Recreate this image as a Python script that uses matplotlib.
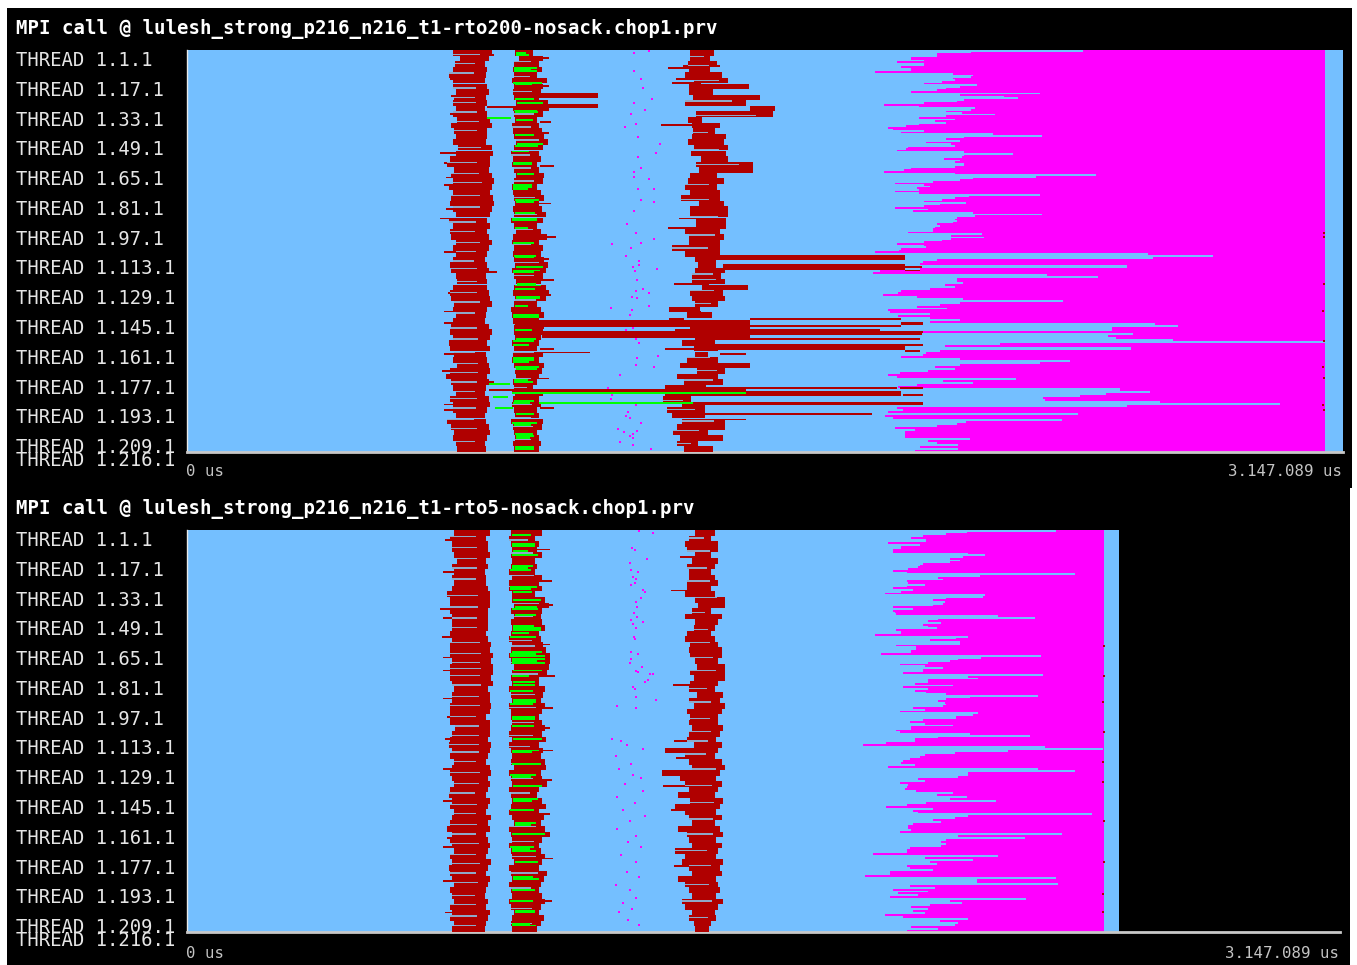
import matplotlib
matplotlib.use('Agg')
import matplotlib.pyplot as plt
from matplotlib.patches import Rectangle

W, H = 1357, 965
BLUE = '#74bfff'
RED = '#b00000'
GREEN = '#00ff00'
PINK = '#ff00ff'

span_ms = 3147.089
threads = [1, 17, 33, 49, 65, 81, 97, 113, 129, 145, 161, 177, 193, 209, 216]
title_top = 'MPI call @ lulesh_strong_p216_n216_t1-rto200-nosack.chop1.prv'
title_bot = 'MPI call @ lulesh_strong_p216_n216_t1-rto5-nosack.chop1.prv'

# values below are start/end times in ms
trace_end_top = 3147
trace_end_bot = 2544
pink_end_top = 3098
pink_end_bot = 2503

# upper half of the threads, then lower half
pink_start_top_a = [2439,2134,2043,2043,1970,1970,2006,1933,2006,2006,1945,1970,1970,1872,2085,2140,2134,2085,2091,2055,
    2006,2152,2104,2067,2043,1970,2323,2104,2225,2262,2116,2097,2006,1897,1994,2146,2134,2067,2110,2201,
    2067,1994,2091,2037,2067,1994,1957,1909,1921,2006,1945,2195,2329,2116,2067,2104,2012,2079,2091,1963,
    1957,1933,2116,2250,2116,2110,2061,2104,2091,2116,2116,2091,1970,1951,1897,2091,2475,2311,2140,2104,
    2030,1927,2006,2024,1988,1994,1927,1994,2323,2128,2091,2055,2006,2122,2049,2006,1927,2018,1976,2140,
    2329,2146,2097,2091,2097,2085,2043,2049,2037,2030,2030,1963,2164,2079,2171,2079,2055,2006,1933,2006,
    2012,1945,1939,1872]
pink_start_top_b = [2617,2793,2630,2041,2004,1995,2558,2558,1995,1886,1868,2340,2480,2095,2095,2113,
    2063,2090,2022,1945,1936,1895,1986,2113,2385,2104,2050,1986,2068,1909,1914,2022,1936,2022,2104,2022,
    2635,2698,2517,2517,1882,2576,2508,2530,2685,3097,2213,2063,2571,2571,2050,2013,2004,1945,2104,2403,
    2322,2104,2036,2090,2018,1941,1909,1932,2258,2059,2140,1986,1936,2539,2539,2621,2503,2431,2331,2335,
    2648,2975,2558,1932,1950,1909,2426,1900,1923,2381,2122,2095,2041,1927,1982,1954,1954,1954,1954,2131,
    2018,2041,2100,1995,2100,1982]

pink_start_bot_a = [2373,2128,2073,2009,1977,2018,2018,1914,2000,1950,1950,1927,1927,2132,2178,2118,2082,2109,2082,2009,
    2000,1996,1968,1927,1964,2423,2164,2050,2064,1964,1968,2014,1964,1927,1982,1950,1905,2178,2173,2073,
    2037,2068,2064,2037,1927,1982,1927,1932,1936,2214,2314,2050,2023,2059,2009,2023,2046,1936,1950,1950,
    1877,2132,2100,2027,2109,2109,1936,1991,1991,1977,1977,1895,2332,2168,2105,2082,2023,1946,2014,2064,
    2009,2009,1955,2337,2132,2159,2023,2023,1986,2091,1955,2023,1986,2018,2073,2323,2137,2073,2050,2068,
    2073,2064,1982,2014,1946,2159,2146,2100,2100,2009,1973,2014,2091,1977,1977,1936,1946,2137,2300,2050]
pink_start_bot_b = [1986,1986,1909,1845,2341,2501,2241,2096,2014,2000,1973,1955,1950,1986,1914,2323,2423,2132,2132,2105,
    1996,2014,1946,1968,1964,1959,1991,2091,2046,2128,2082,2209,2018,1964,1909,2037,1982,1996,2469,2132,
    2096,2037,2059,1982,1968,1968,1977,1946,2387,2105,2287,2073,2059,2073,2059,1973,1964,1964,1873,2214,
    2014,2146,2027,2046,1964,1973,2037,1918,1918,1850,2373,2155,2155,2378,1973,2041,1927,2023,1941,1995,
    1918,2291,2082,2114,2027,1977,2023,1982,2014,1905,1955,2132,2055,2105,2096,1977,2050,1964]

a_left_top = [735,752,740,735,724,733,735,741,738,733,741,735,746,730,738,741,735,749,741,727,719,738,730,733,
    722,733,730,727,735,741,722,733,727,730,741,735,741,733,727,730,741,746,735,727,730,738,733,741,
    735,730,727,735,722,727,738,733,744,727,716,730,735,741,727,735,733,741,719,730,738,735,741,746]
a_right_top = [825,817,806,814,809,806,812,817,809,812,806,814,820,825,814,812,809,825,828,822,820,817,825,833,
    825,820,828,833,825,822,814,820,812,817,825,817,812,806,814,817,809,814,812,817,820,825,814,809,
    806,817,825,820,812,820,809,812,817,822,814,817,809,806,817,822,812,806,809,817,822,812,806,809]
b_left_top = [895,905,893,890,893,887,893,890,893,898,890,893,895,887,890,893,898,893,885,890,887,893,898,893,
    887,890,893,895,890,893,885,893,898,890,887,893,890,893,895,887,893,898,893,890,895,893,885,887,
    890,893,893,895,887,893,890,887,893,895,898,890,893,895,890,887,893,895,885,890,893,895,890,893]
b_right_top = [935,960,950,958,945,972,960,955,950,975,978,960,945,950,958,965,975,960,950,955,945,950,965,960,
    945,955,965,950,958,970,960,945,955,972,950,960,955,965,975,968,960,955,970,978,968,945,955,965,
    950,965,960,955,950,945,960,950,965,958,950,945,935,960,950,955,945,950,960,958,945,950,955,950]
c_left_top = [1373,1373,1367,1370,1361,1385,1370,1370,1382,1361,1537,1391,1367,1379,1382,1379,1367,1385,1375,1403,
    1391,1397,1373,1367,1361,1373,1348,1397,1373,1373,1391,1391,1361,1370,1370,1324,1361,1387,1396,1387,
    1378,1378,1405,1374,1378,1387,1315,1365,1315,1374,1333,1387,1351,1383,1387,1365,1347,1392,1338,1356,
    1306,1306,1301,1351,1310,1324,1351,1338,1328,1347,1338,1356]
c_right_top = [1431,1421,1440,1421,1452,1470,1525,1428,1555,1519,1598,1592,1397,1446,1434,1464,1458,1470,1464,1470,
    1537,1537,1440,1458,1440,1446,1446,1458,1470,1470,1464,1464,1446,1458,1446,1446,1446,1437,1437,1460,
    1451,1460,1523,1456,1460,1442,1392,1424,1350,1528,1528,1528,1433,1442,1414,1442,1528,1460,1442,1456,
    1410,1410,1369,1406,1406,1406,1460,1460,1414,1456,1387,1428]

a_left_bot = [736,727,731,731,736,745,731,736,731,736,731,718,727,727,727,731,731,731,727,731,727,727,727,731,
    727,727,727,731,736,731,731,727,727,727,727,740,731,727,722,731,727,736,731,727,731,736,727,722,
    731,727,736,731,727,718,731,727,731,736,727,731,722,727,731,736,727,731,736,727,731,727,736,731]
a_right_bot = [822,813,818,818,822,813,818,809,813,813,818,822,822,822,818,818,818,818,813,818,827,822,831,827,
    831,831,827,831,818,822,822,827,822,813,822,822,822,818,827,822,818,813,822,827,818,822,818,813,
    822,818,813,827,818,822,813,818,822,818,813,827,818,813,822,818,813,809,818,813,822,818,813,809]
b_left_bot = [886,881,886,890,886,890,886,881,890,881,881,890,890,895,886,895,886,890,886,881,890,886,881,886,
    895,890,886,890,881,886,890,881,886,886,890,886,881,890,881,886,890,886,895,881,886,890,881,886,
    890,886,881,890,895,881,886,890,881,886,890,895,881,886,890,881,886,890,881,886,895,890,886,890]
b_right_bot = [963,945,954,950,963,945,950,945,963,954,963,945,972,981,963,959,963,972,954,959,967,975,985,985,
    981,977,954,954,972,967,959,972,963,954,963,972,963,975,954,967,959,972,975,959,963,977,954,950,
    963,975,954,968,959,972,985,963,954,959,972,963,954,977,968,959,954,963,972,959,954,968,959,950]
c_left_bot = [1391,1373,1364,1368,1391,1382,1368,1373,1373,1368,1368,1364,1391,1400,1382,1364,1391,1387,1368,1364,
    1378,1373,1378,1391,1396,1378,1387,1378,1373,1396,1373,1387,1368,1378,1373,1382,1373,1368,
    1387,1310,1364,1373,1382,1300,1350,1364,1373,1345,1378,1336,1364,1373,1382,1345,1368,1373,
    1382,1336,1364,1355,1373,1382,1345,1364,1373,1382,1355,1364,1382,1373,1387,1391]
c_right_bot = [1436,1427,1446,1446,1427,1446,1436,1427,1436,1446,1427,1436,1464,1464,1427,1455,1446,1436,1427,1436,
    1446,1455,1455,1446,1464,1464,1464,1446,1436,1459,1450,1464,1455,1446,1446,1459,1450,1441,
    1455,1446,1436,1455,1464,1450,1441,1455,1446,1436,1459,1450,1441,1455,1436,1450,1459,1441,
    1455,1446,1441,1459,1450,1455,1441,1446,1450,1441,1459,1446,1436,1441,1427,1420]

# thin light streaks through the red stripes
a_gaps_top = [2,7,12,20,25,28,33,38,43,52,60,66,71,78,84,92,97,103,108,113,117,124,130,135,141,149,155,162,168,173,178,183,187,192,198,203,210]
b_gaps_top = [6,14,22,34,41,48,56,63,70,79,88,96,104,114,121,134,147,162,171,176,181,190,197,202,209]
c_gaps_top = [3,8,16,27,35,44,53,61,72,80,89,99,106,120,123,129,136,165,172,177,188,193,199,204,211]
a_gaps_bot = [3,9,15,20,26,35,41,47,52,60,66,71,74,78,83,89,94,100,105,110,115,119,124,130,136,141,147,152,158,163,168,174,179,184,189,196,201,207,212]
b_gaps_bot = [5,12,24,30,39,46,59,62,71,77,88,95,103,110,116,125,133,141,150,159,167,175,184,192,203,211]
c_gaps_bot = [4,11,20,27,36,44,53,60,68,75,85,92,101,108,113,120,128,137,146,155,163,172,180,190,199,208]

green_rows_top = [1,2,9,10,11,17,18,26,28,32,33,37,45,50,51,54,60,61,66,72,73,74,80,81,87,90,91,95,103,110,111,116,118,119,125,126,128,132,133,137,142,143,150,
    155,156,158,165,166,167,170,171,177,178,188,189,195,200,201,206,207,208,213,214]
green_rows_bot = [2,7,8,11,13,19,20,21,30,31,33,37,41,42,45,51,52,53,55,57,65,66,67,69,70,71,75,78,81,83,86,91,92,93,100,101,105,112,118,119,125,131,132,137,144,145,
    150,157,158,163,170,171,172,178,186,187,193,199,204,205,211,212]

long_rows_top = [23,24,25,29,30,30,110,111,112,115,116,117,116,118,126,145,146,147,148,144,148,146,147,150,151,151,152,153,154,
    152,155,158,159,160,158,161,162,163,168,181,181,182,183,183,182,184,185,185,186,189,190,195,198]
long_start_top = [955,955,955,955,955,816,1387,1387,1387,1460,1460,1460,1954,1954,1405,893,893,893,893,1532,1528,1945,1945,1374,966,1378,966,966,966,
    1528,1528,1405,1405,1405,1954,1954,961,1451,1347,1306,1941,884,884,1523,821,1374,1374,1950,1301,1378,1378,1401,1414]
long_end_top = [1119,1119,1119,1119,1119,887,1954,1954,1954,1954,1954,1954,2000,1995,1523,1532,1532,1532,1532,1945,1945,2004,2004,1886,1528,2004,1528,1528,1528,
    2000,1995,1954,1954,1954,2004,1995,1097,1523,1528,1932,2004,1523,1523,1945,884,1945,1945,2004,1369,2004,2004,1864,1523]

spike_rows_top = [9,13,17,55,68,90,125,140,146,160,172,193,8,15,40,95,24,90,
    2,15,34,60,72,85,108,119,130,140,163,178,190,
    4,19,38,44,62,82,100,112,123,131,160,176,192]
spike_start_top = [1310,735,1320,690,705,690,1325,1315,700,1300,693,700,1350,1330,1290,1310,720,1340,
    745,715,715,700,700,705,700,780,710,700,700,780,700,
    950,950,960,950,960,950,960,950,960,950,960,950,960]
spike_end_top = [1400,800,1400,830,800,760,1420,1400,800,1400,820,810,1450,1420,1380,1400,800,1420,
    835,800,790,780,790,780,790,845,790,780,790,835,790,
    985,985,990,985,1000,990,1005,985,1000,990,1000,985,1000]
green_long_rows_top = [36,184,189,179,186,192]
green_long_start_top = [816,884,957,821,834,839]
green_long_end_top = [882,1523,1378,879,875,888]

spike_rows_bot = [83,32,68,113,122,137,150,170,180,42,14,100,
    5,22,47,57,75,90,112,128,145,165,188,205,
    10,27,40,61,78,95,106,118,134,152,176,199]
spike_start_bot = [1327,1320,700,1330,1335,1300,1320,700,1330,690,1345,710,
    705,700,700,695,700,700,705,700,700,710,700,705,
    955,960,965,955,960,970,955,965,960,955,965,960]
spike_end_bot = [1382,1400,780,1410,1400,1390,1400,790,1400,780,1420,790,
    790,780,785,780,790,785,790,780,785,790,785,790,
    990,995,1000,990,1005,1000,990,1000,995,990,1000,995]

dot_rows_top = [1,0,11,15,20,26,28,32,34,39,41,46,50,55,57,63,65,68,69,74,74,80,81,86,93,98,101,104,106,103,
    110,113,116,115,117,118,123,128,129,130,132,133,137,138,139,142,150,149,151,155,157,165,164,169,170,174,181,185,187,190,194,196,197,200,203,205,204,206,207,208,210,212,214]
dot_ms_top = [1216,1259,1216,1235,1241,1265,1216,1247,1210,1222,1192,1228,1289,1277,1228,1235,1216,1216,1259,1228,1271,1235,1271,1216,1198,1222,1271,1156,1210,1235,
    1195,1231,1215,1231,1279,1220,1226,1242,1221,1258,1211,1226,1258,1153,1211,1206,1195,1215,1211,1221,1231,1226,1283,1221,1272,1179,1147,1158,1153,1221,1200,1195,1206,1236,1174,1190,1226,1215,1206,1215,1179,1215,1262]
dot_rows_bot = [0,1,9,10,15,17,21,22,25,26,28,29,32,33,36,38,41,44,46,48,49,50,52,57,58,65,66,69,71,73,75,76,77,77,80,81,84,85,89,91,94,95,
    112,113,115,117,121,125,128,131,133,136,140,143,146,150,153,156,160,164,167,170,174,178,183,186,190,193,197,200,203,205,209,212]
dot_ms_bot = [1235,1272,1214,1224,1255,1209,1213,1231,1218,1226,1222,1213,1245,1250,1240,1226,1229,1221,1228,1213,1245,1218,1226,1221,1224,1213,1231,1213,1209,1241,1226,1232,1273,1265,1259,1249,1218,1224,1226,1281,1174,1226,
    1160,1185,1200,1245,1170,1213,1180,1218,1240,1196,1245,1175,1222,1190,1250,1210,1175,1226,1205,1240,1185,1226,1200,1235,1170,1210,1226,1190,1215,1180,1205,1235]

# red flecks at the end of the pink block
fleck_rows_bot = [62,78,92,108,124,135,156,178,195,205]
fleck_ms_bot = [2502,2502,2500,2502,2500,2500,2502,2502,2500,2500]
fleck_rows_top = [98,100,125,140,156,170,176,190,193]
fleck_ms_top = [3096,3096,3096,3094,3096,3094,3096,3094,3096]


def px_rect(x0, y0, x1, y1):
    return [x0 / W, 1 - y1 / H, (x1 - x0) / W, (y1 - y0) / H]


def stripe(ax, left, right, gaps, pad_l, pad_r):
    step = 216 / len(left)
    rows = [i * step for i in range(len(left))]
    lefts = [l - pad_l for l in left]
    ax.barh(rows, [r + pad_r - l for l, r in zip(lefts, right)], left=lefts, height=step, align='edge', color=RED, lw=0, zorder=3)
    for g in gaps:
        i = min(int(g / step), len(left) - 1)
        ax.barh(g, (right[i] - left[i]) * 0.8, left=left[i] - pad_l, height=0.7, align='edge', color='#8fa8c8', lw=0, zorder=4)


def panel(box, title, title_y, end, pink_end, pink_a, pink_b, split, stripes, green_rows, dot_rows, dot_ms, time_y):
    ax = fig.add_axes(px_rect(*box))
    ax.set_facecolor('black')
    ax.set_xlim(0, span_ms)
    ax.set_ylim(216, 0)
    ax.barh(0, end, height=216, align='edge', color=BLUE, lw=0, zorder=1)
    for pink, first, last in [(pink_a, 0, split), (pink_b, split, 216)]:
        step = (last - first) / len(pink)
        rows = [first + i * step for i in range(len(pink))]
        ax.barh(rows, [pink_end - p for p in pink], left=pink, height=step, align='edge', color=PINK, lw=0, zorder=2)
    for left, right, gaps, pad_l, pad_r in stripes:
        stripe(ax, left, right, gaps, pad_l, pad_r)
    bl, br = stripes[1][0], stripes[1][1]
    bs = 216 / len(bl)
    for k, g in enumerate(green_rows):
        i = min(int(g / bs), len(bl) - 1)
        ax.barh(g, (br[i] - bl[i]) * (0.92 if k % 3 else 0.7), left=bl[i], height=1, align='edge', color=GREEN, lw=0, zorder=5)
    ax.scatter(dot_ms, [r + 0.5 for r in dot_rows], s=3.5, marker='s', color=PINK, lw=0, zorder=6)
    for side in ['top', 'right']:
        ax.spines[side].set_visible(False)
    ax.spines['left'].set_color('#e8e8e8')
    ax.spines['left'].set_linewidth(1)
    ax.spines['bottom'].set_color('#c8c8c8')
    ax.spines['bottom'].set_linewidth(2)
    ax.set_xticks([])
    ax.set_yticks([])
    for t in threads:
        ax.annotate('THREAD 1.%d.1' % t, xy=(0, t - 1), xycoords=ax.get_yaxis_transform(),
                    xytext=(-171, -10.5), textcoords='offset pixels', ha='left', va='center',
                    color='#e6e6e6', fontsize=13.55, family='DejaVu Sans Mono', annotation_clip=False)
    fig.text(16 / W, 1 - title_y / H, title, color='white', fontsize=13.66, fontweight='bold',
             family='DejaVu Sans Mono', ha='left', va='center')
    fig.text(186 / W, 1 - time_y / H, '0 us', color='#c4c4c4', fontsize=11.3,
             family='DejaVu Sans Mono', ha='left', va='center')
    fig.text((box[2] - 1) / W, 1 - time_y / H, '3.147.089 us', color='#c4c4c4', fontsize=11.3,
             family='DejaVu Sans Mono', ha='right', va='center')
    return ax


fig = plt.figure(figsize=(W / 100, H / 100), dpi=100, facecolor='white')
fig.add_artist(Rectangle((7 / W, 1 - 488 / H), 1345 / W, 480 / H, transform=fig.transFigure, color='black', lw=0, zorder=-1))
fig.add_artist(Rectangle((7 / W, 0), 1343 / W, 477 / H, transform=fig.transFigure, color='black', lw=0, zorder=-1))

top = panel((187, 50, 1343, 452), title_top, 29, trace_end_top, pink_end_top, pink_start_top_a, pink_start_top_b, 109,
            [(a_left_top, a_right_top, a_gaps_top, 10, 4), (b_left_top, b_right_top, b_gaps_top, 2, 8), (c_left_top, c_right_top, c_gaps_top, 4, 4)],
            green_rows_top, dot_rows_top, dot_ms_top, 471)
top.barh(long_rows_top, [e - s for s, e in zip(long_start_top, long_end_top)], left=long_start_top, height=1, align='edge', color=RED, lw=0, zorder=7)
top.barh(spike_rows_top, [e - s for s, e in zip(spike_start_top, spike_end_top)], left=spike_start_top, height=1, align='edge', color=RED, lw=0, zorder=3)
top.barh(green_long_rows_top, [e - s for s, e in zip(green_long_start_top, green_long_end_top)], left=green_long_start_top, height=1, align='edge', color=GREEN, lw=0, zorder=8)
top.scatter(fleck_ms_top, [r + 0.5 for r in fleck_rows_top], s=3.5, marker='s', color=RED, lw=0, zorder=6)

bot = panel((187, 530, 1340, 932), title_bot, 509, trace_end_bot, pink_end_bot, pink_start_bot_a, pink_start_bot_b, 112,
            [(a_left_bot, a_right_bot, a_gaps_bot, 8, 4), (b_left_bot, b_right_bot, b_gaps_bot, 2, 6), (c_left_bot, c_right_bot, c_gaps_bot, 4, 4)],
            green_rows_bot, dot_rows_bot, dot_ms_bot, 953)
bot.barh(spike_rows_bot, [e - s for s, e in zip(spike_start_bot, spike_end_bot)], left=spike_start_bot, height=1, align='edge', color=RED, lw=0, zorder=3)
bot.scatter(fleck_ms_bot, [r + 0.5 for r in fleck_rows_bot], s=3.5, marker='s', color=RED, lw=0, zorder=6)

fig.savefig('out.png', dpi=100, facecolor='white')
